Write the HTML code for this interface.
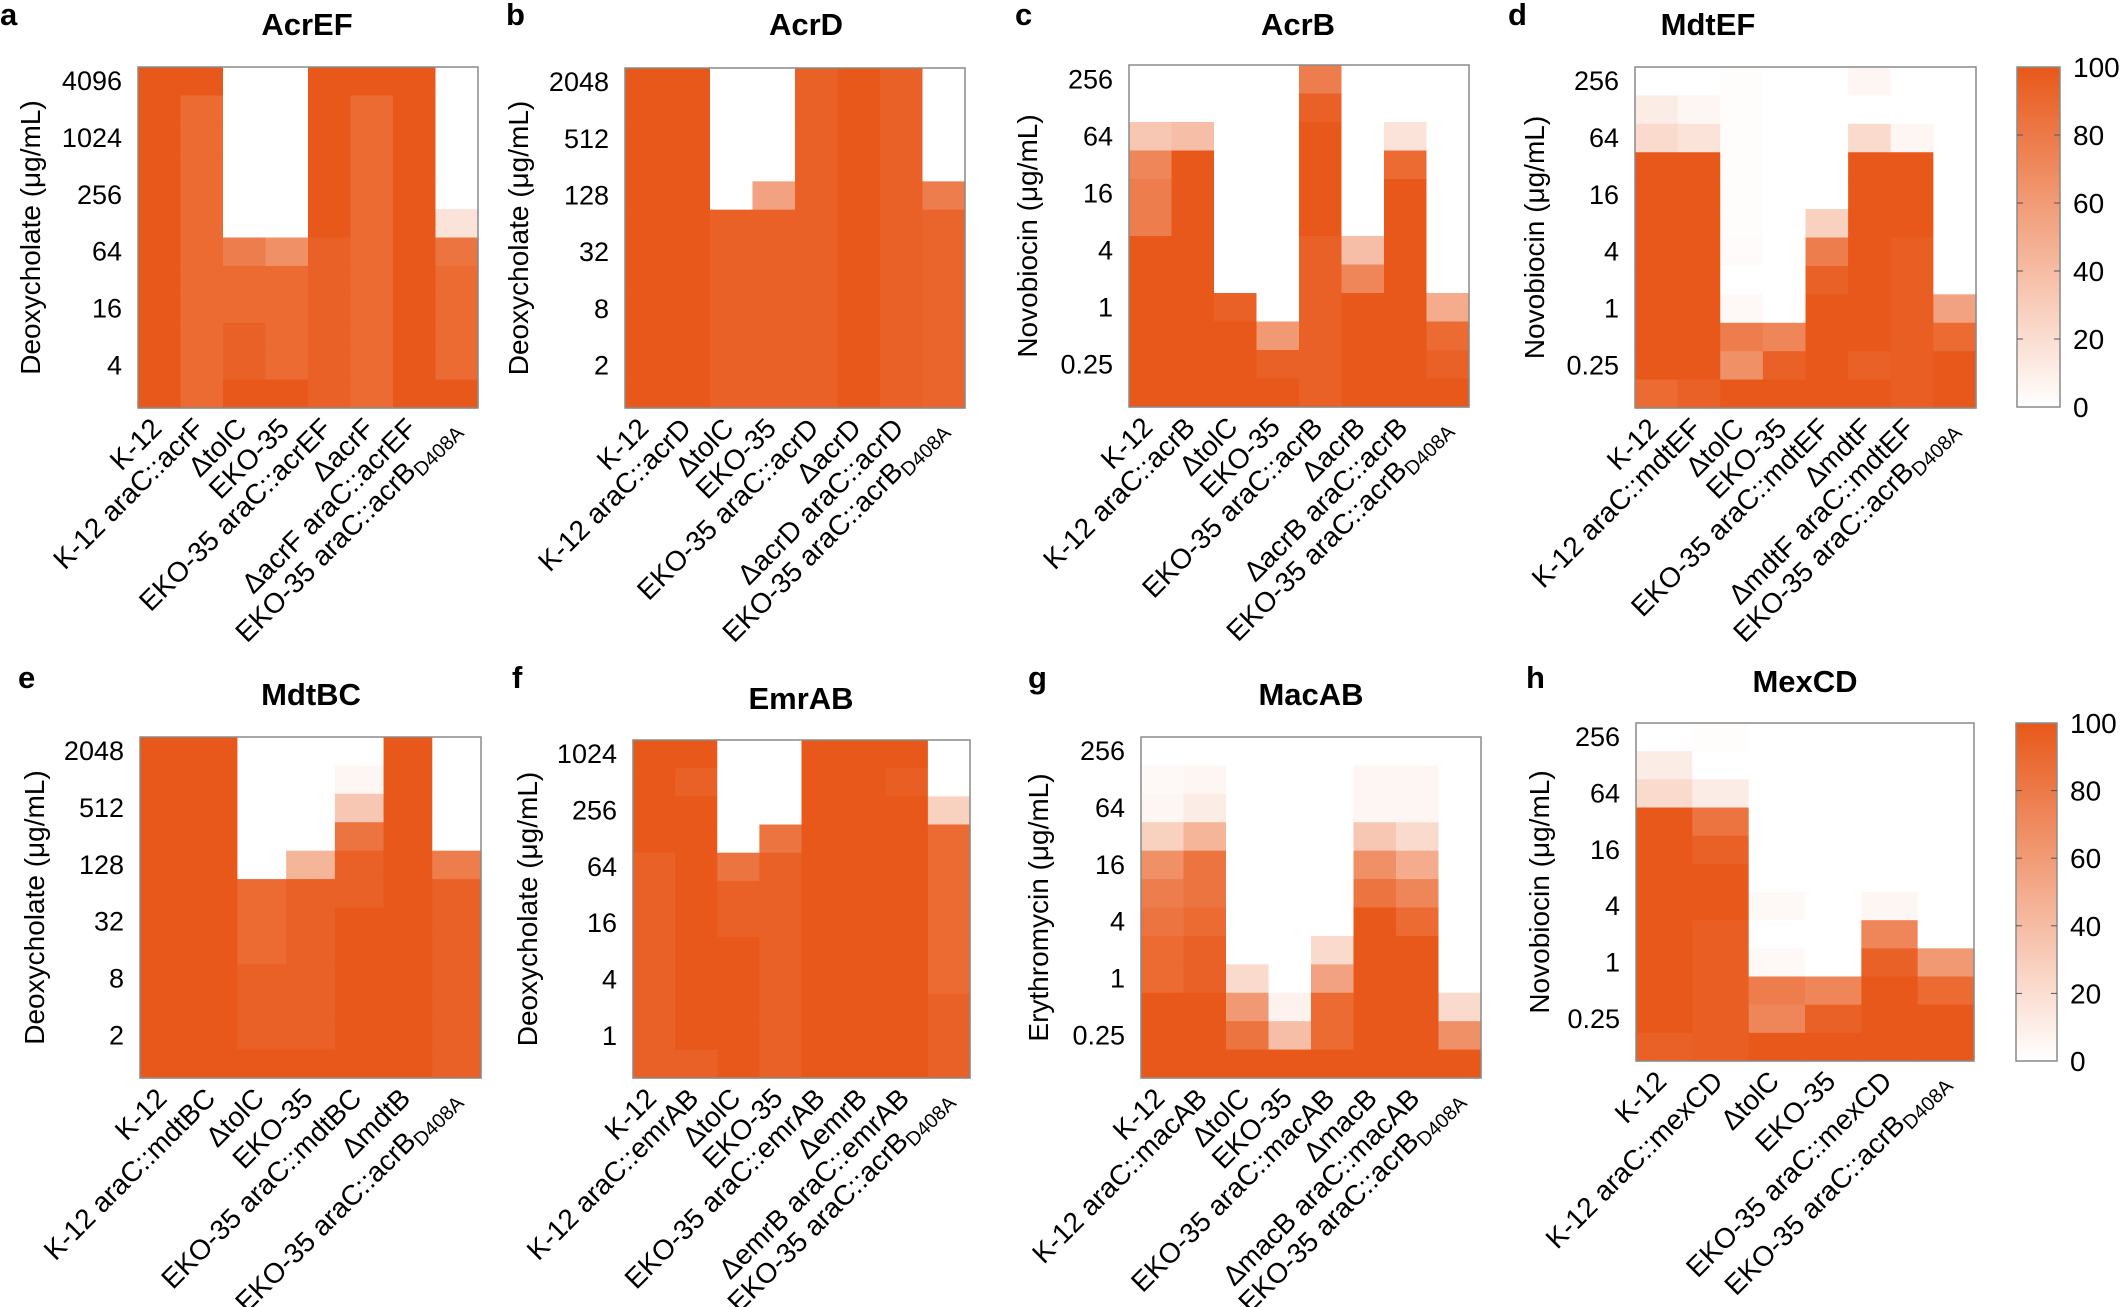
<!DOCTYPE html>
<html><head><meta charset="utf-8">
<style>
html,body{margin:0;padding:0;background:#fff;}
svg{display:block;font-family:"Liberation Sans",Arial,sans-serif;}
</style></head>
<body>
<svg id="s" width="2120" height="1307" viewBox="0 0 2120 1307" xmlns="http://www.w3.org/2000/svg">
<defs>
<linearGradient id="cb" x1="0" y1="1" x2="0" y2="0">
<stop offset="0" stop-color="#ffffff"/><stop offset="1" stop-color="#e8581a"/>
</linearGradient>
</defs>
</svg>
<script>
const NS="http://www.w3.org/2000/svg";
const svg=document.getElementById('s');
function el(tag,attrs,parent){const e=document.createElementNS(NS,tag);for(const k in attrs)e.setAttribute(k,attrs[k]);(parent||svg).appendChild(e);return e;}
function col(v){const t=Math.max(0,Math.min(1,v/9));const r=Math.round(255+(232-255)*t),g=Math.round(255+(88-255)*t),b=Math.round(255+(26-255)*t);return `rgb(${r},${g},${b})`;}
function lbl(parent,str){
  const parts=str.split(/(<sub>.*?<\/sub>)/);
  parts.forEach(p=>{ if(!p)return;
    if(p.startsWith('<sub>')){const t=el('tspan',{'font-size':'20','dy':'6'},parent);t.textContent=p.slice(5,-6);}
    else{const t=el('tspan',{},parent);t.textContent=p;}
  });
}
const panels=[
 {L:'a',lx:0,ly:25,title:'AcrEF',tx:307,ty:35,x0:138,x1:478,y0:67,y1:408,ylab:'Deoxycholate (μg/mL)',ylx:30,
  ticks:['4096','1024','256','64','16','4'],
  cols:['K-12','K-12 araC::acrF','ΔtolC','EKO-35','EKO-35 araC::acrEF','ΔacrF','ΔacrF araC::acrEF','EKO-35 araC::acrB<sub>D408A</sub>'],
  d:[[9,9,9,9,9,9,9,9,9,9,9,9],[9,8,8,8,8,8,8,8,8,8,8,8],[0,0,0,0,0,0,7,8,8,8.5,8.5,9],[0,0,0,0,0,0,6,8,8,8,8,9],[9,9,9,9,9,9,8.5,8.5,8.5,8.5,8.5,8.5],[9,8,8,8,8,8,8,8,8,8,8,8],[9,9,9,9,9,9,9,9,9,9,9,9],[0,0,0,0,0,1.5,7.5,8,8,8,8,9]]},
 {L:'b',lx:506,ly:25,title:'AcrD',tx:806,ty:35,x0:625,x1:965,y0:68,y1:408,ylab:'Deoxycholate (μg/mL)',ylx:518,
  ticks:['2048','512','128','32','8','2'],
  cols:['K-12','K-12 araC::acrD','ΔtolC','EKO-35','EKO-35 araC::acrD','ΔacrD','ΔacrD araC::acrD','EKO-35 araC::acrB<sub>D408A</sub>'],
  d:[[9,9,9,9,9,9,9,9,9,9,9,9],[9,9,9,9,9,9,9,9,9,9,9,9],[0,0,0,0,0,8.5,8.5,8.5,8.5,8.5,8.5,8.5],[0,0,0,0,5,8.5,8.5,8.5,8.5,8.5,8.5,8.5],[8.5,8.5,8.5,8.5,8.5,8.5,8.5,8.5,8.5,8.5,8.5,8.5],[9,9,9,9,9,9,9,9,9,9,9,9],[8.5,8.5,8.5,8.5,8.5,8.5,8.5,8.5,8.5,8.5,8.5,8.5],[0,0,0,0,7,8.3,8.3,8.3,8.3,8.3,8.3,8.3]]},
 {L:'c',lx:1015,ly:25,title:'AcrB',tx:1298,ty:35,x0:1129,x1:1469,y0:65,y1:407,ylab:'Novobiocin (μg/mL)',ylx:1027,
  ticks:['256','64','16','4','1','0.25'],
  cols:['K-12','K-12 araC::acrB','ΔtolC','EKO-35','EKO-35 araC::acrB','ΔacrB','ΔacrB araC::acrB','EKO-35 araC::acrB<sub>D408A</sub>'],
  d:[[0,0,3,6.5,7,7,9,9,9,9,9,9],[0,0,3.5,9,9,9,9,9,9,9,9,9],[0,0,0,0,0,0,0,0,8.5,9,9,9],[0,0,0,0,0,0,0,0,0,5.5,8.5,9],[7,8.5,9,9,9,9,8.5,8.5,8.5,8.5,8.5,8.5],[0,0,0,0,0,0,3.5,6.5,9,9,9,9],[0,0,1.5,8,9,9,9,9,9,9,9,9],[0,0,0,0,0,0,0,0,4.5,8,8.5,9]]},
 {L:'d',lx:1508,ly:25,title:'MdtEF',tx:1708,ty:35,x0:1635,x1:1976,y0:67,y1:408,ylab:'Novobiocin (μg/mL)',ylx:1534,
  ticks:['256','64','16','4','1','0.25'],
  cols:['K-12','K-12 araC::mdtEF','ΔtolC','EKO-35','EKO-35 araC::mdtEF','ΔmdtF','ΔmdtF araC::mdtEF','EKO-35 araC::acrB<sub>D408A</sub>'],
  d:[[0,1,2,9,9,9,9,9,9,9,9,8],[0,0.5,1.5,9,9,9,9,9,9,9,9,8.5],[0.1,0.1,0.1,0.1,0.1,0.1,0.2,0,0.3,7,6,9],[0,0,0,0,0,0,0,0,0,6.5,8.5,9],[0,0,0,0,0,2.5,7,8.5,9,9,9,9],[0.5,0,2,9,9,9,9,9,9,9,8.5,9],[0,0,0.5,9,9,9,8.7,8.7,8.7,8.7,8.7,8.7],[0,0,0,0,0,0,0,0,5,8,9,9]]},
 {L:'e',lx:18,ly:688,title:'MdtBC',tx:311,ty:705,x0:140,x1:481,y0:737,y1:1078,ylab:'Deoxycholate (μg/mL)',ylx:34,
  ticks:['2048','512','128','32','8','2'],
  cols:['K-12','K-12 araC::mdtBC','ΔtolC','EKO-35','EKO-35 araC::mdtBC','ΔmdtB','EKO-35 araC::acrB<sub>D408A</sub>'],
  d:[[9,9,9,9,9,9,9,9,9,9,9,9],[9,9,9,9,9,9,9,9,9,9,9,9],[0,0,0,0,0,8,8,8,8.5,8.5,8.5,9],[0,0,0,0,4,8.5,8.5,8.5,8.5,8.5,8.5,9],[0,0.5,3,7.5,8.5,8.5,9,9,9,9,9,9],[9,9,9,9,9,9,9,9,9,9,9,9],[0,0,0,0,7,8.5,8.5,8.5,8.5,8.5,8.5,8.5]]},
 {L:'f',lx:512,ly:688,title:'EmrAB',tx:801,ty:709,x0:633,x1:970,y0:740,y1:1078,ylab:'Deoxycholate (μg/mL)',ylx:527,
  ticks:['1024','256','64','16','4','1'],
  cols:['K-12','K-12 araC::emrAB','ΔtolC','EKO-35','EKO-35 araC::emrAB','ΔemrB','ΔemrB araC::emrAB','EKO-35 araC::acrB<sub>D408A</sub>'],
  d:[[9,9,9,9,8.5,8.5,8.5,8.5,8.5,8.5,8.5,8.5],[9,8.5,9,9,9,9,9,9,9,9,9,8.5],[0,0,0,0,7.5,8.5,8.5,9,9,9,9,9],[0,0,0,7.5,8.5,8.5,8.5,8.5,8.5,8.5,8.5,8.5],[9,9,9,9,9,9,9,9,9,9,9,9],[9,9,9,9,9,9,9,9,9,9,9,9],[9,8.7,9,9,9,9,9,9,9,9,9,9],[0,0,2.5,8,8,8,8,8,8,8.5,8.5,8.5]]},
 {L:'g',lx:1028,ly:688,title:'MacAB',tx:1311,ty:705,x0:1141,x1:1481,y0:737,y1:1078,ylab:'Erythromycin (μg/mL)',ylx:1038,
  ticks:['256','64','16','4','1','0.25'],
  cols:['K-12','K-12 araC::macAB','ΔtolC','EKO-35','EKO-35 araC::macAB','ΔmacB','ΔmacB araC::macAB','EKO-35 araC::acrB<sub>D408A</sub>'],
  d:[[0,0.3,0.5,2.5,6,7,7.5,8,8,9,9,9],[0,0.5,1,4,7.5,7.5,8,8.5,8.5,9,9,9],[0,0,0,0,0,0,0,0,2,5.5,7.5,9],[0,0,0,0,0,0,0,0,0,0.7,3.5,9],[0,0,0,0,0,0,0,2,5,8,8,9],[0,0.5,0.5,3,6,7.5,9,9,9,9,9,9],[0,0.5,0.5,2,4.5,6.5,8,9,9,9,9,9],[0,0,0,0,0,0,0,0,0,2,6,9]]},
 {L:'h',lx:1526,ly:688,title:'MexCD',tx:1805,ty:692,x0:1636,x1:1974,y0:723,y1:1061,ylab:'Novobiocin (μg/mL)',ylx:1539,
  ticks:['256','64','16','4','1','0.25'],
  cols:['K-12','K-12 araC::mexCD','ΔtolC','EKO-35','EKO-35 araC::mexCD','EKO-35 araC::acrB<sub>D408A</sub>'],
  d:[[0,1,2,9,9,9,9,9,9,9,9,8.5],[0.1,0,1,7.5,8.5,9,9,8.7,8.7,8.7,8.7,8.7],[0,0,0,0,0,0,0.3,0,0.3,7,6.5,9],[0,0,0,0,0,0,0,0,0,6.5,8.5,9],[0,0,0,0,0,0,0.5,6.5,8.5,9,9,9],[0,0,0,0,0,0,0,0,5.5,8,9,9]]}
];
panels.forEach(p=>{
  const nc=p.d.length,nr=12,cw=(p.x1-p.x0)/nc,rh=(p.y1-p.y0)/nr;
  p.d.forEach((c,i)=>c.forEach((v,j)=>{
    el('rect',{x:(p.x0+i*cw).toFixed(2),y:(p.y0+j*rh).toFixed(2),width:(cw+0.6).toFixed(2),height:(rh+0.6).toFixed(2),fill:col(v)});
  }));
  el('rect',{x:p.x0,y:p.y0,width:p.x1-p.x0,height:p.y1-p.y0,fill:'none',stroke:'#8a8a8a','stroke-width':1.5});
  p.ticks.forEach((t,k)=>{const e=el('text',{x:p.x0-16,y:p.y0+(2*k+0.5)*rh+9,'text-anchor':'end','font-size':27});e.textContent=t;});
  const yc=(p.y0+p.y1)/2;
  const yl=el('text',{x:p.ylx+10,y:yc,'text-anchor':'middle','font-size':28,transform:`rotate(-90 ${p.ylx+10} ${yc})`});yl.textContent=p.ylab;
  const ti=el('text',{x:p.tx,y:p.ty,'text-anchor':'middle','font-size':31,'font-weight':'bold'});ti.textContent=p.title;
  const Le=el('text',{x:p.lx,y:p.ly,'font-size':31,'font-weight':'bold'});Le.textContent=p.L;
  p.cols.forEach((s,i)=>{const cx=p.x0+(i+0.5)*cw+4,cy=p.y1+22;
    const t=el('text',{x:cx,y:cy,'text-anchor':'end','font-size':28,transform:`rotate(-45 ${cx} ${cy})`});lbl(t,s);});
});
[[2017,2060,67,407],[2016,2057,723,1061]].forEach(([a,b,t,bt])=>{
  el('rect',{x:a,y:t,width:b-a,height:bt-t,fill:'url(#cb)',stroke:'#8a8a8a','stroke-width':1.5});
  for(let k=0;k<=5;k++){const y=bt-(bt-t)*k/5;
    if(k>0&&k<5){el('line',{x1:a,x2:a+6,y1:y,y2:y,stroke:'#555','stroke-width':1});el('line',{x1:b-6,x2:b,y1:y,y2:y,stroke:'#555','stroke-width':1});}
    const e=el('text',{x:b+13,y:y+10,'font-size':28});e.textContent=String(k*20);}
});
</script>
</body></html>
